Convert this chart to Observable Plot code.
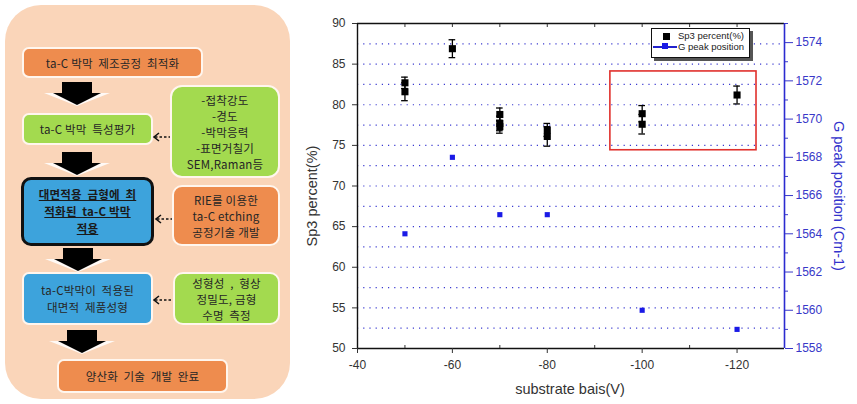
<!DOCTYPE html>
<html><head><meta charset="utf-8">
<script src="https://cdn.jsdelivr.net/npm/d3@7"></script>
<script src="https://cdn.jsdelivr.net/npm/@observablehq/plot@0.6"></script>
<style>
body{margin:0;background:#fff;}
#wrap{position:relative;width:857px;height:404px;overflow:hidden;background:#fff;font-family:"Noto Sans CJK KR","Noto Sans",sans-serif;}
.abs{position:absolute;}
.panel{left:5px;top:5px;width:285px;height:394px;background:#FAD5B9;border-radius:36px;}
.box{position:absolute;display:flex;align-items:center;justify-content:center;text-align:center;box-sizing:border-box;border:2px solid #fff6ee;border-radius:7px;font-size:11.5px;color:#262626;line-height:16px;letter-spacing:0.2px;}
.or{background:#EE8C4E;}
.gr{background:#A3DA4F;}
.bl{background:#3DA3DC;}
.plotc{position:absolute;left:290px;top:0;}
.lbl{position:absolute;font-family:"Liberation Sans",Arial,sans-serif;font-size:14.5px;color:#333;white-space:nowrap;}
</style></head>
<body><div id="wrap">
<div class="abs panel"></div>
<div class="box or" style="left:22px;top:47px;width:181px;height:31px;">ta-C 박막&nbsp; 제조공정&nbsp; 최적화</div>
<div class="box gr" style="left:22px;top:113px;width:131px;height:32px;">ta-C 박막&nbsp; 특성평가</div>
<div class="box gr" style="left:170px;top:85px;width:110px;height:93px;border-radius:12px;">-접착강도<br>-경도<br>-박막응력<br>-표면거칠기<br>SEM,Raman등</div>
<div class="box bl" style="left:21px;top:177px;width:133px;height:69px;border:3px solid #111;border-radius:10px;font-weight:bold;text-decoration:underline;line-height:17px;color:#1a1a1a;">대면적용&nbsp; 금형에&nbsp; 최<br>적화된&nbsp; ta-C 박막<br>적용</div>
<div class="box or" style="left:172px;top:185px;width:108px;height:61px;border-radius:10px;">RIE를 이용한<br>ta-C etching<br>공정기술 개발</div>
<div class="box bl" style="left:22px;top:272px;width:131px;height:53px;line-height:17px;">ta-C박막이&nbsp; 적용된<br>대면적&nbsp; 제품성형</div>
<div class="box gr" style="left:173px;top:272px;width:107px;height:53px;border-radius:10px;">성형성&nbsp; ,&nbsp; 형상<br>정밀도, 금형<br>수명&nbsp; 측정</div>
<div class="box or" style="left:57px;top:359px;width:171px;height:34px;">양산화&nbsp; 기술&nbsp; 개발&nbsp; 완료</div>
<svg class="abs" style="left:0;top:0" width="290" height="404" id="arrows"></svg>

<div id="p1" class="plotc"></div>
<div id="p2" class="plotc"></div>

<div class="abs" style="left:651px;top:28px;width:97px;height:28px;border:1px solid #111;background:#fff;box-shadow:3px 3px 0 #555;font-family:'Liberation Sans',Arial,sans-serif;font-size:9.5px;color:#222;">
  <div class="abs" style="left:11px;top:4px;width:7px;height:7px;background:#000;"></div>
  <div class="abs" style="left:26px;top:1px;">Sp3 percent(%)</div>
  <div class="abs" style="left:1px;top:17px;width:24px;height:1.5px;background:#2222cc;"></div>
  <div class="abs" style="left:10px;top:14px;width:6px;height:6px;background:#1a1ae6;"></div>
  <div class="abs" style="left:26px;top:12px;">G peak position</div>
</div>

<div class="lbl" style="left:312px;top:196px;transform:translate(-50%,-50%) rotate(-90deg);">Sp3 percent(%)</div>
<div class="lbl" style="left:570px;top:389px;transform:translate(-50%,-50%);">substrate bais(V)</div>
<div class="lbl" style="left:839px;top:196px;transform:translate(-50%,-50%) rotate(90deg);color:#3333cc;">G peak position (Cm-1)</div>
</div>
<script>
// ---- data ----
const sp3X   = [-50, -50, -60, -70, -70, -70, -80, -80, -100, -100, -120];
const sp3Val = [82.7, 81.6, 86.9, 78.8, 77.7, 77.3, 76.9, 76.1, 78.9, 77.6, 81.2];
const sp3Err = [0.7, 1.1, 1.1, 0.8, 0.9, 0.8, 0.8, 1.2, 1.0, 1.2, 1.1];
const gX   = [-50, -60, -70, -80, -100, -120];
const gVal = [1564, 1568, 1565, 1565, 1560, 1559];
const leftTicks = [50, 55, 60, 65, 70, 75, 80, 85, 90];
const gridVals = [52.5, 55, 57.5, 60, 62.5, 65, 67.5, 70, 72.5, 75, 77.5, 80, 82.5, 85, 87.5];
const bottomTicks = [-40, -60, -80, -100, -120];
const bottomMinor = [-50, -70, -90, -110];
const topTicks = [-50, -60, -70, -80, -90, -100, -110, -120];
const rightTicks = [1558, 1560, 1562, 1564, 1566, 1568, 1570, 1572, 1574];
const rightMinor = [1559, 1561, 1563, 1565, 1567, 1569, 1571, 1573, 1575];
const highlight = [{x1: -93.3, x2: -124.1, y1: 74.4, y2: 84.1}];

const sp3 = sp3X.map((x, i) => ({x, y: sp3Val[i], lo: sp3Val[i] - sp3Err[i], hi: sp3Val[i] + sp3Err[i]}));
const gdata = gX.map((x, i) => ({x, y: gVal[i]}));
const plain = d => String(d);

const common = {width: 567, height: 404, marginLeft: 67, marginRight: 73, marginTop: 23, marginBottom: 56,
  style: {background: "transparent", fontFamily: "'Liberation Sans', Arial, sans-serif", fontSize: "12px", overflow: "visible"}};

const p1 = Plot.plot({
  ...common,
  x: {domain: [-40, -130]},
  y: {domain: [50, 90]},
  marks: [
    Plot.ruleY(gridVals, {stroke: "#3b3bd0", strokeWidth: 1.2, strokeDasharray: "1.2,5"}),
    Plot.ruleY([50, 90], {stroke: "#111", strokeWidth: 1.4}),
    Plot.ruleX([-40], {stroke: "#111", strokeWidth: 1.4}),
    Plot.axisY(leftTicks, {anchor: "left", tickSize: 5, tickPadding: 7, label: null, color: "#333", fontSize: 12, tickFormat: plain}),
    Plot.axisX(bottomTicks, {anchor: "bottom", tickSize: 5, tickPadding: 7, label: null, color: "#333", fontSize: 12, tickFormat: plain}),
    Plot.axisX(bottomMinor, {anchor: "bottom", tickSize: -3, tickFormat: () => "", label: null, color: "#333"}),
    Plot.axisX(topTicks, {anchor: "top", tickSize: -3, tickFormat: () => "", label: null, color: "#333"}),
    Plot.rect(highlight, {x1: "x1", x2: "x2", y1: "y1", y2: "y2", fill: "none", stroke: "#e0302c", strokeWidth: 1.6}),
    Plot.ruleX(sp3, {x: "x", y1: "lo", y2: "hi", stroke: "#000", strokeWidth: 1.3}),
    Plot.ruleY(sp3, {y: "lo", x1: d => d.x + 0.7, x2: d => d.x - 0.7, stroke: "#000", strokeWidth: 1.3}),
    Plot.ruleY(sp3, {y: "hi", x1: d => d.x + 0.7, x2: d => d.x - 0.7, stroke: "#000", strokeWidth: 1.3}),
    Plot.dot(sp3, {x: "x", y: "y", symbol: "square", r: 4, fill: "#000", stroke: "none"})
  ]
});
document.getElementById("p1").appendChild(p1);

const p2 = Plot.plot({
  ...common,
  x: {domain: [-40, -130], axis: null},
  y: {domain: [1558, 1575]},
  marks: [
    Plot.ruleX([-130], {stroke: "#2b2bd0", strokeWidth: 1.6}),
    Plot.axisY(rightTicks, {anchor: "right", tickSize: 8, tickPadding: 3, label: null, color: "#3838c8", fontSize: 12, tickFormat: plain}),
    Plot.axisY(rightMinor, {anchor: "right", tickSize: 3, tickFormat: () => "", label: null, color: "#3838c8"}),
    Plot.dot(gdata, {x: "x", y: "y", symbol: "square", r: 2.9, fill: "#1a1ae6", stroke: "none"})
  ]
});
document.getElementById("p2").appendChild(p2);

// ---- flowchart arrows ----
const svg = d3.select("#arrows");
const downArrows = [{cx: 77, y: 82}, {cx: 77, y: 152}, {cx: 78, y: 248}, {cx: 82, y: 330}];
downArrows.forEach(a => {
  const g = svg.append("g").attr("transform", `translate(${a.cx},${a.y})`);
  g.append("polygon").attr("points", "-33,11 33,11 0,24").attr("fill", "#fff").attr("opacity", 0.85);
  g.append("polygon").attr("points", "-15,0 15,0 15,11 24,11 0,23 -24,11 -15,11").attr("fill", "#000");
});
const dashArrows = [{x1: 153, x2: 170, y: 137}, {x1: 155, x2: 172, y: 219}, {x1: 153, x2: 173, y: 300}];
dashArrows.forEach(a => {
  svg.append("line").attr("x1", a.x1 + 2).attr("x2", a.x2).attr("y1", a.y).attr("y2", a.y)
    .attr("stroke", "#111").attr("stroke-width", 1.6).attr("stroke-dasharray", "2.5,2");
  svg.append("path").attr("d", `M${a.x1 + 6},${a.y - 4} L${a.x1 + 1},${a.y} L${a.x1 + 6},${a.y + 4}`)
    .attr("fill", "none").attr("stroke", "#111").attr("stroke-width", 1.6);
});
</script>
</body></html>
